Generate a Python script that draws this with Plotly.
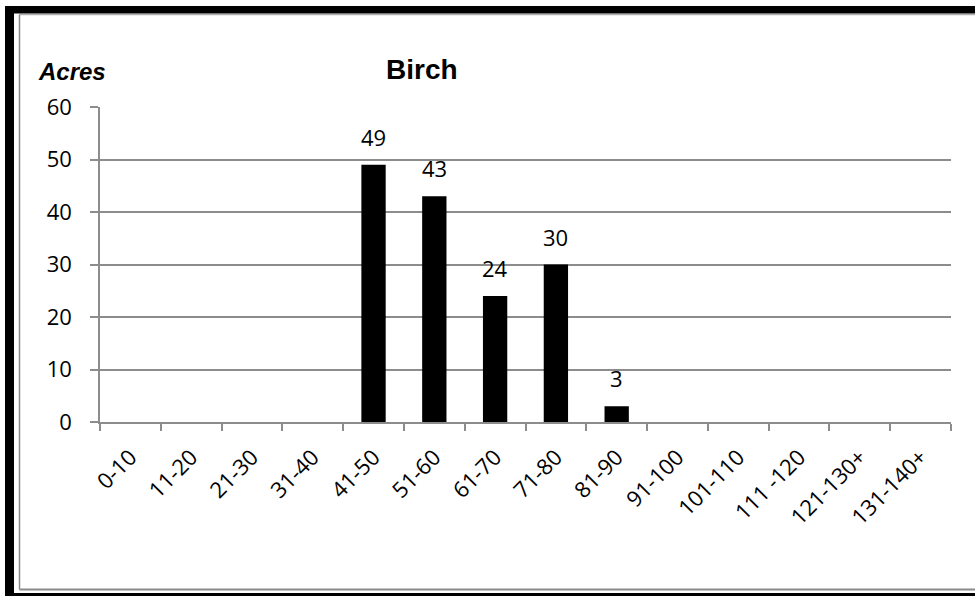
import plotly.graph_objects as go

# Diameter classes and acreage for birch
classes = ["0-10", "11-20", "21-30", "31-40", "41-50", "51-60", "61-70",
           "71-80", "81-90", "91-100", "101-110", "111 -120", "121-130+", "131-140+"]
acres = [0, 0, 0, 0, 49, 43, 24, 30, 3, 0, 0, 0, 0, 0]
y_ticks = [0, 10, 20, 30, 40, 50, 60]

W, H = 975, 596
L, R, T, B = 100, 24, 107, 174
plot_w = W - L - R
plot_h = H - T - B

def px(x):
    return (x - L) / plot_w

def py(y):
    return (H - B - y) / plot_h

GRID = "#8c8c8c"
TICK_FONT = dict(family="Open Sans, Liberation Sans, sans-serif", size=22, color="black")

fig = go.Figure(go.Bar(
    x=classes, y=acres,
    marker=dict(color="black", line=dict(width=0)),
    hoverinfo="x+y",
))

# value labels above the non-empty bars
annotations = []
for c, v in zip(classes, acres):
    if v:
        annotations.append(dict(
            x=c, y=v, xref="x", yref="y", text=str(v), showarrow=False,
            yanchor="bottom", yshift=11, font=TICK_FONT,
        ))

annotations.append(dict(
    x=px(422), y=py(69), xref="paper", yref="paper", text="<b>Birch</b>",
    showarrow=False, xanchor="center", yanchor="middle",
    font=dict(family="Liberation Sans, Arial, sans-serif", size=28, color="black"),
))
annotations.append(dict(
    x=px(36), y=py(71.5), xref="paper", yref="paper", text="<b><i>Acres</i></b>",
    showarrow=False, xanchor="left", yanchor="middle",
    font=dict(family="Liberation Sans, Arial, sans-serif", size=24, color="black"),
))

def rect(x0, x1, y0, y1, **kw):
    return dict(type="rect", xref="paper", yref="paper",
                x0=px(x0), x1=px(x1), y0=py(y1), y1=py(y0), **kw)

def hline(x0, x1, y, color, width):
    return dict(type="line", xref="paper", yref="paper",
                x0=px(x0), x1=px(x1), y0=py(y), y1=py(y),
                line=dict(color=color, width=width))

def vline(x, y0, y1, color, width):
    return dict(type="line", xref="paper", yref="paper",
                x0=px(x), x1=px(x), y0=py(y0), y1=py(y1),
                line=dict(color=color, width=width))

shapes = [
    # inner grey frame (open on the right, runs off the page)
    hline(19.5, W, 14.5, "#b0b0b0", 1.5),
    hline(19.5, W, 589.5, "#8a8a8a", 2),
    vline(19.5, 14.5, 589.5, "#8a8a8a", 1.5),
    # heavy black page border
    rect(5, 14, 6, H, fillcolor="black", line=dict(width=0)),
    rect(5, W, 6, 13.5, fillcolor="black", line=dict(width=0)),
    rect(5, W, 593, H, fillcolor="black", line=dict(width=0)),
]

fig.update_layout(
    width=W, height=H,
    margin=dict(l=L, r=R, t=T, b=B, pad=0),
    paper_bgcolor="white", plot_bgcolor="white",
    bargap=0.6,
    showlegend=False,
    annotations=annotations,
    shapes=shapes,
    xaxis=dict(
        type="category", tickangle=-45, tickfont=TICK_FONT,
        showline=True, linecolor=GRID, linewidth=1.5,
        ticks="outside", tickson="boundaries", ticklen=7, tickcolor=GRID, tickwidth=1.5,
        showgrid=False, ticklabelstandoff=12, fixedrange=True,
    ),
    yaxis=dict(
        range=[0, 60], tickvals=y_ticks, tickfont=TICK_FONT,
        showline=True, linecolor=GRID, linewidth=1.5,
        ticks="outside", ticklen=8, tickcolor=GRID, tickwidth=1.5,
        showgrid=True, gridcolor=GRID, gridwidth=1.5,
        zeroline=False, ticklabelstandoff=14, fixedrange=True,
    ),
)

fig.write_html("out.html")
